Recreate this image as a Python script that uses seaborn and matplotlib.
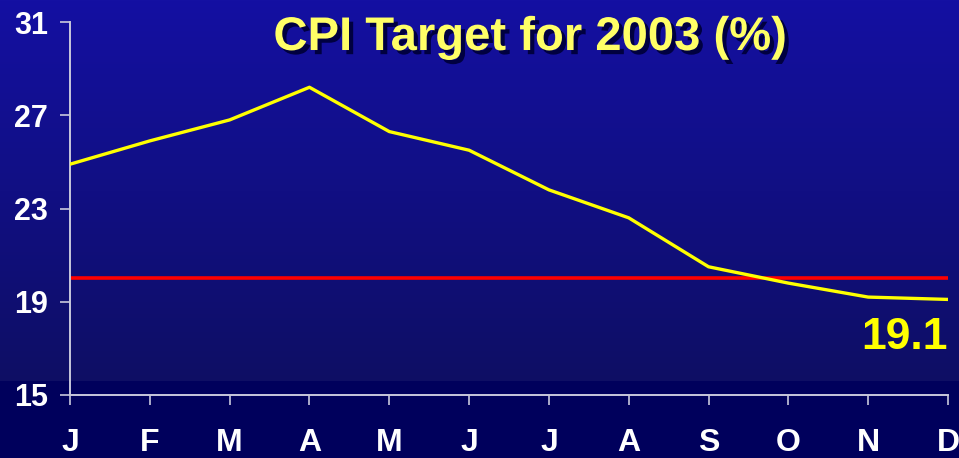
import numpy as np
import pandas as pd
import matplotlib as mpl
mpl.use("Agg")
from matplotlib import pyplot as plt
from matplotlib import patheffects as pe
import seaborn as sns

# chart data
months = ["J", "F", "M", "A", "M", "J", "J", "A", "S", "O", "N", "D"]
cpi = [24.9, 25.9, 26.8, 28.2, 26.3, 25.5, 23.8, 22.6, 20.5, 19.8, 19.2, 19.1]
target = 20
end_label = "19.1"
y_ticks = [15, 19, 23, 27, 31]

sns.set_style("white")
plt.rcParams["font.family"] = ["Liberation Sans", "DejaVu Sans"]

fig = plt.figure(figsize=(9.59, 4.58), dpi=100)

# gradient background (slide style)
bg = fig.add_axes([0, 0, 1, 1], zorder=0)
h = 458
top_c = np.array([20, 16, 162]) / 255
mid_c = np.array([14, 14, 100]) / 255
bot_c = np.array([0, 0, 92]) / 255
grad = np.zeros((h, 1, 3))
for r in range(h):
    if r < 381:
        t = r / 381
        grad[r, 0] = top_c * (1 - t) + mid_c * t
    else:
        grad[r, 0] = bot_c
bg.imshow(grad, aspect="auto", extent=[0, 1, 0, 1])
bg.axis("off")

ax = fig.add_axes([70 / 959, 1 - 395 / 458, 878 / 959, 373 / 458], zorder=1)
ax.set_facecolor("none")

df = pd.DataFrame({"pos": np.arange(len(months)), "cpi": cpi})
sns.lineplot(data=df, x="pos", y="cpi", color="#ffff00", linewidth=2.4, ax=ax, zorder=3)
ax.axhline(target, color="#ff0000", linewidth=2.6, zorder=2)

ax.set_xlim(0, len(months) - 1)
ax.set_ylim(15, 31)
ax.set_xticks(df["pos"])
ax.set_xticklabels(months)
ax.set_yticks(y_ticks)
ax.set_xlabel("")
ax.set_ylabel("")

for s in ["top", "right"]:
    ax.spines[s].set_visible(False)
for s in ["left", "bottom"]:
    ax.spines[s].set_color("#c8c8dc")
    ax.spines[s].set_linewidth(1.4)

ax.tick_params(axis="both", direction="out", length=7, width=1.2, color="#c8c8dc",
               labelcolor="white")
ax.tick_params(axis="x", pad=17, bottom=True, labelsize=23)
ax.tick_params(axis="y", pad=9, left=True, labelsize=22)
for lab in ax.get_xticklabels() + ax.get_yticklabels():
    lab.set_fontweight("bold")

ax.text(len(months) - 1, 17.45, end_label, color="#ffff00", fontsize=32,
        fontweight="bold", ha="right", va="center")

fig.text(0.553, 0.917, "CPI Target for 2003 (%)", color="#ffff66", fontsize=34,
         fontweight="bold", ha="center", va="center",
         path_effects=[pe.withSimplePatchShadow(offset=(3, -3), shadow_rgbFace="#000040", alpha=1.0)])

fig.savefig("out.png", dpi=100)
